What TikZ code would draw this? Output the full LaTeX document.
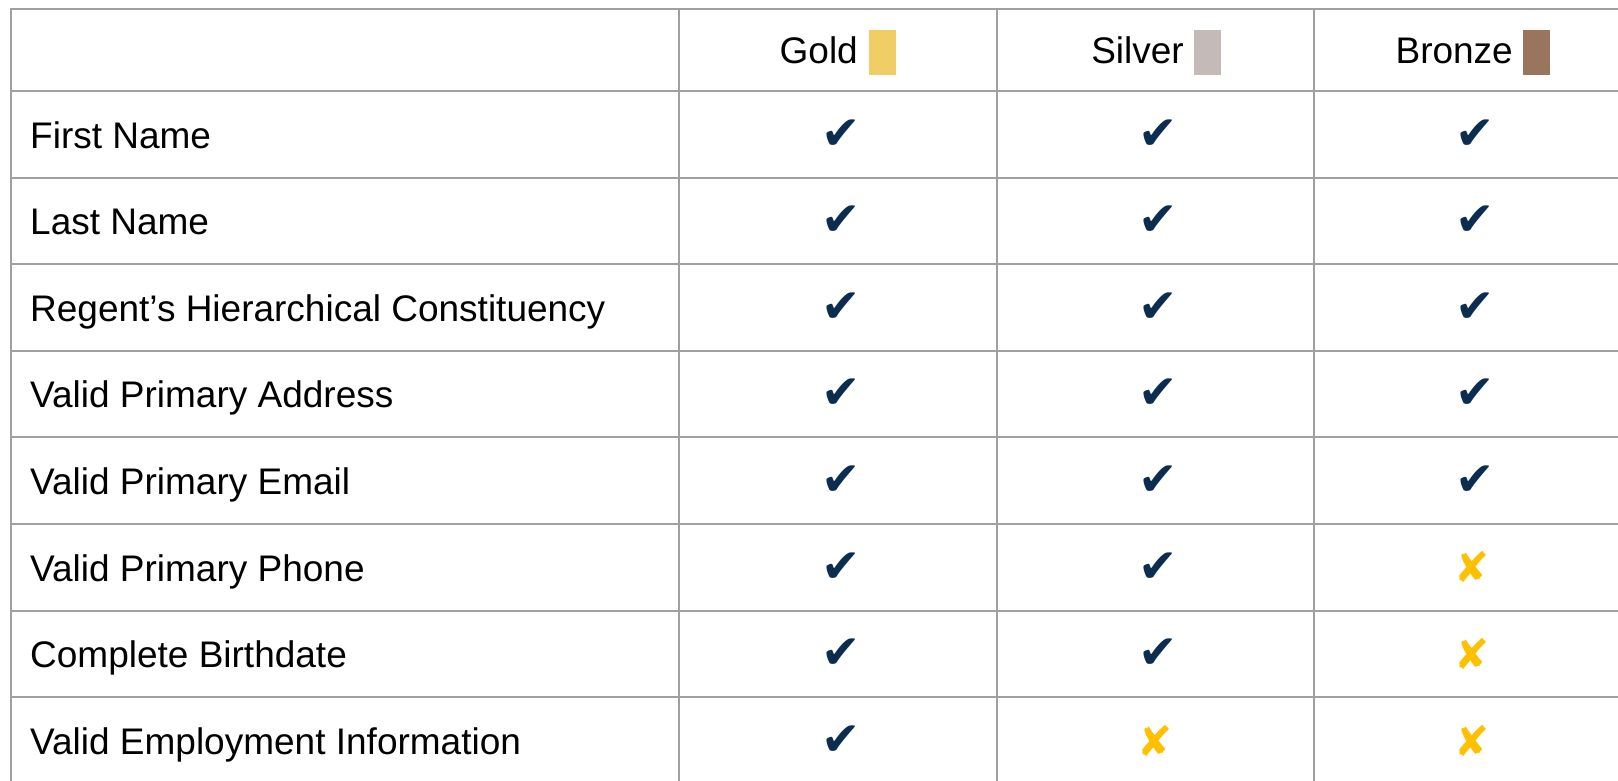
\documentclass[tikz,border=0pt]{standalone}
\usepackage{fontspec}
\setmainfont{Liberation Sans}
\newfontfamily\symfont{DejaVu Sans}
\definecolor{gridgray}{RGB}{160,160,160}
\definecolor{checknavy}{RGB}{12,45,80}
\definecolor{crossyellow}{RGB}{255,192,0}
\definecolor{goldsw}{RGB}{241,206,101}
\definecolor{silversw}{RGB}{196,186,183}
\definecolor{bronzesw}{RGB}{154,117,94}
\begin{document}
\begin{tikzpicture}[x=1pt,y=-1pt,
  gridline/.style={draw=gridgray,line width=2pt},
  lbl/.style={anchor=base west,inner sep=0pt,font=\fontsize{37}{44}\selectfont},
  hdr/.style={anchor=base,inner sep=0pt,font=\fontsize{37}{44}\selectfont},
  yes/.style={inner sep=0pt,text=checknavy,font=\symfont\fontsize{47}{50}\selectfont},
  no/.style={inner sep=0pt,text=crossyellow,font=\symfont\fontsize{42}{46}\selectfont},
  swatch/.style={inner sep=0pt,minimum width=27pt,minimum height=45pt,anchor=north west}
]
\useasboundingbox (0,0) rectangle (1618,780);
\fill[white] (0,0) rectangle (1618,780);
% grid
\foreach \y in {9,91,177.6,264.2,350.8,437.4,524,610.6,697.2}
  \draw[gridline] (11,\y) -- (1620,\y);
\foreach \x in {11,679,997,1314}
  \draw[gridline] (\x,8) -- (\x,782);
% header
\node[hdr,anchor=base east] (hgold) at (858,63.5) {Gold};
\node[swatch,fill=goldsw] (sgold) at (869,30) {};
\node[hdr,anchor=base east] (hsilver) at (1184,63.5) {Silver};
\node[swatch,fill=silversw] (ssilver) at (1194,30) {};
\node[hdr,anchor=base east] (hbronze) at (1513,63.5) {Bronze};
\node[swatch,fill=bronzesw] (sbronze) at (1523,30) {};
% row labels
\node[lbl] (r1) at (30,148) {First Name};
\node[lbl] (r2) at (30,234.6) {Last Name};
\node[lbl] (r3) at (30,321.2) {Regent’s Hierarchical Constituency};
\node[lbl] (r4) at (30,407.8) {Valid Primary Address};
\node[lbl] (r5) at (30,494.4) {Valid Primary Email};
\node[lbl] (r6) at (30,581) {Valid Primary Phone};
\node[lbl] (r7) at (30,667.6) {Complete Birthdate};
\node[lbl] (r8) at (30,754.2) {Valid Employment Information};
% marks
\foreach \i/\yc in {1/134.3,2/220.9,3/307.5,4/394.1,5/480.7,6/567.3,7/653.9,8/740.5}{
  \node[yes] (g\i) at (841,\yc) {✔};
}
\foreach \i/\yc in {1/134.3,2/220.9,3/307.5,4/394.1,5/480.7,6/567.3,7/653.9}{
  \node[yes] (s\i) at (1158,\yc) {✔};
}
\node[no] (s8) at (1155,740.5) {✘};
\foreach \i/\yc in {1/134.3,2/220.9,3/307.5,4/394.1,5/480.7}{
  \node[yes] (b\i) at (1475,\yc) {✔};
}
\foreach \i/\yc in {6/567.3,7/653.9,8/740.5}{
  \node[no] (b\i) at (1472,\yc) {✘};
}
\end{tikzpicture}
\end{document}
